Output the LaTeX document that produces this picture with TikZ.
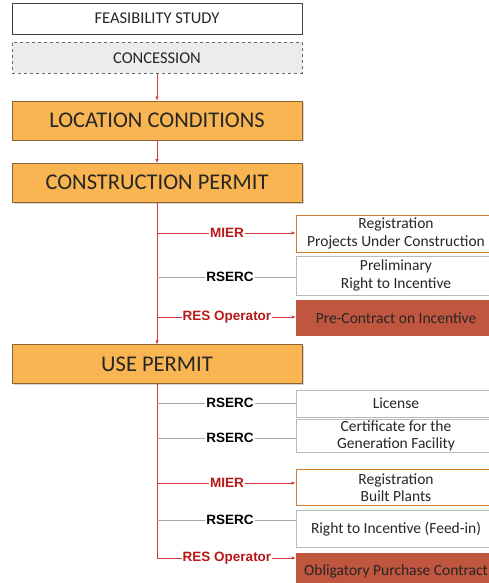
\documentclass[tikz,border=0pt]{standalone}
\usepackage{fontspec}
\setmainfont{Carlito}
\newfontfamily\agencyfont{Liberation Sans}
\usepackage{tikz}
\usetikzlibrary{arrows.meta,positioning,shadows}

\definecolor{stepfill}{HTML}{F9B552}
\definecolor{stepdraw}{HTML}{8E6330}
\definecolor{brick}{HTML}{C0563F}
\definecolor{flowred}{HTML}{D6373A}
\definecolor{agencyred}{HTML}{B81818}
\definecolor{regdraw}{HTML}{D27A2E}

\begin{document}
\begin{tikzpicture}[x=1pt,y=-1pt,node distance=8pt,
  topbox/.style={draw=black!75,fill=white,minimum width=290pt,minimum height=31pt,
    text=black!85,font=\fontsize{16.5}{18}\selectfont},
  stepbox/.style={draw=stepdraw,fill=stepfill,minimum width=290pt,minimum height=39pt,
    drop shadow={shadow xshift=1.5pt,shadow yshift=-1.5pt,opacity=.35},
    text=black!85,font=\fontsize{22.5}{24}\selectfont},
  subbox/.style={draw=gray!55,fill=white,minimum width=200pt,inner sep=1pt,align=center,
    text=black!85,font=\fontsize{15.5}{17.5}\selectfont},
  regbox/.style={subbox,draw=regdraw,line width=1pt},
  contractbox/.style={subbox,draw=none,fill=brick},
  agency/.style={fill=white,inner sep=1pt,font=\agencyfont\bfseries\fontsize{13.5}{15}\selectfont},
  redagency/.style={agency,text=agencyred},
  redline/.style={draw=flowred,line width=.9pt},
  grayline/.style={draw=gray!70,line width=.7pt},
  tip/.style={-{Latex[length=4pt,width=3.5pt]}}]

\useasboundingbox (0,0) rectangle (489,583);

% main column
\node [topbox] (fs) at (157,18.5) {FEASIBILITY STUDY};
\node [topbox,below=8pt of fs,draw=black!60,dashed,fill=gray!15] (con) {CONCESSION};
\node [stepbox,below=27pt of con] (lc) {LOCATION CONDITIONS};
\node [stepbox,below=23pt of lc] (cp) {CONSTRUCTION PERMIT};
\node [stepbox,below=142pt of cp] (up) {USE PERMIT};

\draw [redline,tip] (con) to (lc);
\draw [redline,tip] (lc) to (cp);
\draw [redline,tip] (cp) to (up);

% construction permit branches
\node [regbox,minimum height=37pt] (reg1) at (396,233.5) {Registration\\Projects Under Construction};
\node [subbox,minimum height=39pt,below=3pt of reg1] (pre) {Preliminary\\Right to Incentive};
\node [contractbox,minimum height=36pt,below=5pt of pre] (pc) {Pre-Contract on Incentive};

\node [redagency] (mier1) at (227,233) {MIER};
\node [agency] (rserc1) at (230,277) {RSERC};
\node [redagency] (ro1) at (227,317) {RES Operator};

\draw [redline] (cp.south |- mier1) to (mier1);
\draw [redline,tip] (mier1) to (reg1.west |- mier1);
\draw [grayline] (cp.south |- rserc1) to (rserc1);
\draw [grayline] (rserc1) to (pre.west |- rserc1);
\draw [redline] (cp.south |- ro1) to (ro1);
\draw [redline,tip] (ro1) to (pc.west |- ro1);

% use permit branches
\node [subbox,minimum height=27pt] (lic) at (396,403.5) {License};
\node [subbox,minimum height=29pt,below=2pt of lic] (cert) {Certificate for the\\Generation Facility};
\node [regbox,minimum height=36pt,below=17pt of cert] (reg2) {Registration\\Built Plants};
\node [subbox,minimum height=37pt,below=4pt of reg2] (rti) {Right to Incentive (Feed-in)};
\node [contractbox,minimum height=36pt,below=5pt of rti] (opc) {Obligatory Purchase Contract};

\node [agency] (rserc2) at (230,403) {RSERC};
\node [agency] (rserc3) at (230,438) {RSERC};
\node [redagency] (mier2) at (227,483) {MIER};
\node [agency] (rserc4) at (230,520) {RSERC};
\node [redagency] (ro2) at (227,558) {RES Operator};

\draw [redline] (up.south) |- (ro2);
\draw [redline,tip] (ro2) to (opc.west |- ro2);
\draw [grayline] (up.south |- rserc2) to (rserc2);
\draw [grayline] (rserc2) to (lic.west |- rserc2);
\draw [grayline] (up.south |- rserc3) to (rserc3);
\draw [grayline] (rserc3) to (cert.west |- rserc3);
\draw [redline] (up.south |- mier2) to (mier2);
\draw [redline,tip] (mier2) to (reg2.west |- mier2);
\draw [grayline] (up.south |- rserc4) to (rserc4);
\draw [grayline] (rserc4) to (rti.west |- rserc4);

\end{tikzpicture}
\end{document}
